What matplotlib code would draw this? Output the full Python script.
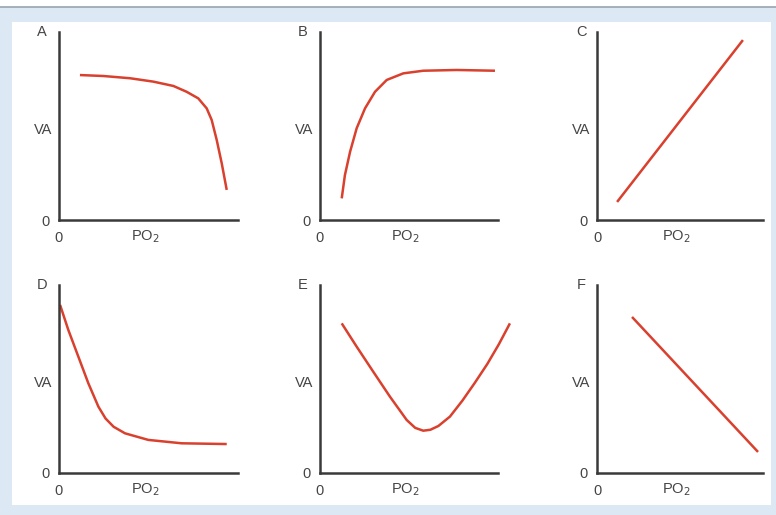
import matplotlib.pyplot as plt
from matplotlib.patches import Rectangle
from matplotlib.lines import Line2D

plt.rcParams['font.family'] = ['Liberation Sans', 'DejaVu Sans']

# curve points (x: 0-100 along PO2 axis, y: 0-100 up the VA axis)
a_x = [11.7, 24.7, 39.7, 52.7, 63.9, 71.3, 77.8, 82.5, 85.3, 88.1, 90.9, 93.7]
a_y = [77.1, 76.6, 75.4, 73.6, 71.3, 68.2, 64.7, 59.4, 53.2, 42.6, 30.2, 16.0]

b_x = [12.2, 14.0, 16.9, 20.6, 25.3, 30.9, 37.5, 46.8, 58.0, 76.8, 98.3]
b_y = [11.5, 23.9, 36.3, 48.8, 59.4, 68.2, 74.5, 78.0, 79.4, 79.8, 79.4]

c_x = [12.1, 87.9]
c_y = [9.6, 95.7]

d_x = [0.6, 5.2, 10.8, 16.4, 22.0, 26.0, 30.5, 36.9, 49.9, 68.5, 93.7]
d_y = [89.4, 76.1, 61.9, 47.7, 35.3, 29.0, 24.6, 21.1, 17.6, 15.8, 15.4]

e_x = [12.2, 20.6, 29.9, 39.3, 48.7, 53.5, 58.0, 62.0, 66.5, 73.0, 80.0, 87.0, 94.0, 100.5, 106.7]
e_y = [79.6, 67.2, 53.9, 40.6, 28.2, 24.0, 22.5, 23.0, 25.0, 30.0, 38.5, 48.0, 58.0, 68.5, 79.6]

f_x = [21.1, 97.0]
f_y = [83.0, 11.2]

letters = ['A', 'B', 'C', 'D', 'E', 'F']
curves = [(a_x, a_y), (b_x, b_y), (c_x, c_y), (d_x, d_y), (e_x, e_y), (f_x, f_y)]

W, H = 776, 515
fig = plt.figure(figsize=(W / 100, H / 100), dpi=100)
fig.patch.set_facecolor('#dce9f4')
fig.patches.append(Rectangle((12 / W, 1 - 505 / H), 759 / W, 483 / H,
                             transform=fig.transFigure, facecolor='white',
                             edgecolor='none', zorder=-10))
fig.patches.append(Rectangle((0, 1 - 7 / H), 1, 7 / H, transform=fig.transFigure,
                             facecolor='white', edgecolor='none', zorder=-10))
fig.lines.append(Line2D([0, 1], [1 - 7 / H, 1 - 7 / H], transform=fig.transFigure,
                        color='#9aa4ad', lw=1.2, zorder=-9))

# pixel boxes: (left, right) per column, (top, bottom) per row
cols = [(59, 238), (320, 498), (597, 763)]
rows = [(32, 220), (285, 473)]
tc = '#454545'

for i, (letter, (xs, ys)) in enumerate(zip(letters, curves)):
    l, r = cols[i % 3]
    t, b = rows[i // 3]
    ax = fig.add_axes([l / W, 1 - b / H, (r - l) / W, (b - t) / H])
    ax.set_facecolor('none')
    ax.plot(xs, ys, color='#d9402e', lw=1.8, clip_on=False,
            solid_capstyle='butt', solid_joinstyle='round')
    ax.set_xlim(0, 100)
    ax.set_ylim(0, 100)
    for s in ['top', 'right']:
        ax.spines[s].set_visible(False)
    for s in ['left', 'bottom']:
        ax.spines[s].set_color('#3a3a3a')
        ax.spines[s].set_linewidth(1.8)
    ax.set_xticks([0])
    ax.set_xticklabels(['0'])
    ax.set_yticks([0])
    ax.set_yticklabels(['0'])
    ax.tick_params(length=0, labelsize=10.5, colors=tc)
    ax.tick_params(axis='x', pad=8)
    ax.tick_params(axis='y', pad=7)
    ax.set_xlabel('PO$_2$', fontsize=10.5, color=tc)
    ax.xaxis.set_label_coords(0.48, -0.045, transform=ax.transAxes)
    ax.xaxis.label.set_va('top')
    ax.set_ylabel('VA', fontsize=10.5, color=tc, rotation=0, ha='right', va='center')
    ax.yaxis.set_label_coords(-0.04, 0.48)
    ax.text(-0.095, 1.0, letter, transform=ax.transAxes, ha='center', va='center',
            fontsize=10.5, color=tc)

fig.savefig('out.png', dpi=100, facecolor=fig.get_facecolor())
